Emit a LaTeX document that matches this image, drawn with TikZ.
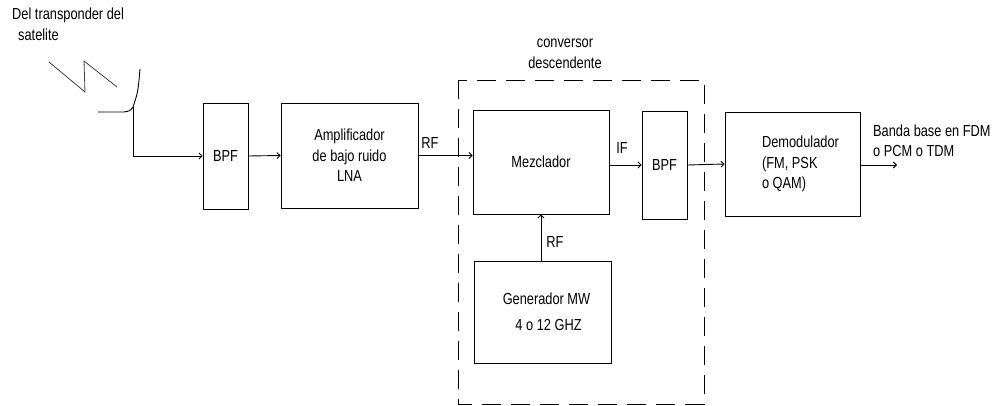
\documentclass[tikz,border=0pt]{standalone}
\usepackage{fontspec}
\setmainfont{Liberation Sans}[FakeStretch=0.8]
\usepackage{tikz}
\usetikzlibrary{arrows.meta,calc}
\tikzset{>={Straight Barb[length=3pt,width=6pt]}}
\tikzset{
  blk/.style={draw,line width=0.9pt,inner sep=0pt,font=\fontsize{16}{20.5}\selectfont},
  sig/.style={->,line width=0.9pt},
  lbl/.style={inner sep=0pt,font=\fontsize{16}{20.5}\selectfont}
}

\begin{document}
\begin{tikzpicture}[x=1pt,y=-1pt]
\useasboundingbox (0,0) rectangle (1002,406);
% antenna and incoming signal
\node[lbl,align=left,anchor=north west] (src) at (12,8) {Del transponder del\\\hspace{6pt}satelite};
\draw[line width=0.8pt,black!75] (49,62) -- (85,92) -- (84,61) -- (117,87);
\draw[line width=0.9pt] (140,69) .. controls (138,92) .. (133,107) .. controls (130,111) .. (124,112) -- (98,112);
\coordinate (feed) at (133,107);
% blocks
\node[blk,minimum width=45,minimum height=106] (bpfA) at (225.5,156) {BPF};
\node[blk,minimum width=137,minimum height=105,align=center] (lna) at (349.5,155.5) {Amplificador\\de bajo ruido\\LNA};
\node[blk,minimum width=136,minimum height=104] (mez) at (541,162) {Mezclador};
\node[blk,minimum width=45,minimum height=108] (bpfB) at (664.5,165) {BPF};
\node[blk,minimum width=135,minimum height=104,align=left] (demod) at (792.5,164)
  {\hspace*{16pt}Demodulador\\\hspace*{16pt}(FM, PSK\\\hspace*{16pt}o QAM)};
\node[blk,minimum width=137,minimum height=102,align=center] (gen) at (542.5,312) {\hspace*{8pt}Generador MW\\[5pt]\hspace*{12pt}4 o 12 GHZ};
% down converter
\draw[line width=0.9pt,dash pattern=on 19pt off 10pt] (458,80) rectangle (704,404);
\node[lbl,align=center] (conv) at (565,54) {conversor\\descendente};
% connections
\draw[sig] (feed) |- (bpfA.west);
\draw[sig] (bpfA.east) -- (lna.west);
\draw[sig] (lna.east) -- (lna.east -| mez.west);
\node[lbl] (rfA) at (430,143) {RF};
\draw[sig] (mez.east |- bpfB.west) -- (bpfB.west);
\node[lbl] (ifA) at (622,148) {IF};
\draw[sig] (bpfB.east) -- (demod.west);
\coordinate (out) at (897,165);
\draw[sig] (demod.east |- out) -- (out);
\node[lbl,align=left,anchor=west] (bb) at (873,141) {Banda base en FDM\\o PCM o TDM};
\draw[sig] (gen.north -| mez.south) -- (mez.south);
\node[lbl] (rfB) at (555,242) {RF};
\end{tikzpicture}
\end{document}
